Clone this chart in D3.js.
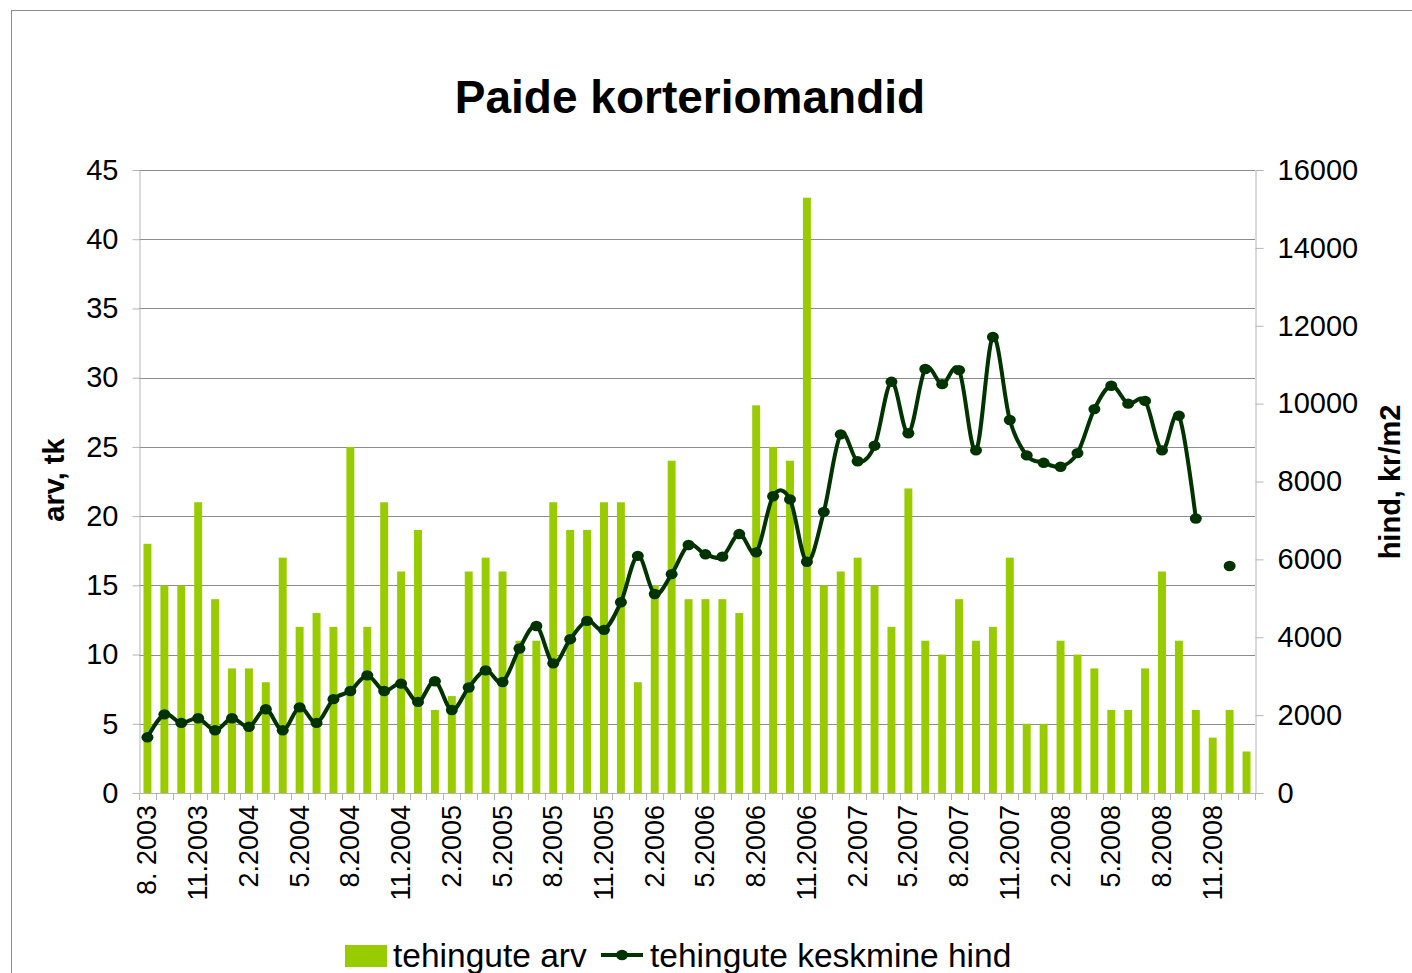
<!DOCTYPE html>
<html>
<head>
<meta charset="utf-8">
<script src="https://cdn.jsdelivr.net/npm/d3@7"></script>
<style>
  html, body { margin: 0; padding: 0; background: #fff; }
  svg { display: block; font-family: "Liberation Sans", Arial, Helvetica, sans-serif; }
</style>
</head>
<body>
<svg id="chart" width="1412" height="973"></svg>
<script>
// Months, August 2003 – January 2009
const months = [
  "8. 2003", "9.2003", "10.2003", "11.2003", "12.2003",
  "1.2004", "2.2004", "3.2004", "4.2004", "5.2004", "6.2004", "7.2004", "8.2004", "9.2004", "10.2004", "11.2004", "12.2004",
  "1.2005", "2.2005", "3.2005", "4.2005", "5.2005", "6.2005", "7.2005", "8.2005", "9.2005", "10.2005", "11.2005", "12.2005",
  "1.2006", "2.2006", "3.2006", "4.2006", "5.2006", "6.2006", "7.2006", "8.2006", "9.2006", "10.2006", "11.2006", "12.2006",
  "1.2007", "2.2007", "3.2007", "4.2007", "5.2007", "6.2007", "7.2007", "8.2007", "9.2007", "10.2007", "11.2007", "12.2007",
  "1.2008", "2.2008", "3.2008", "4.2008", "5.2008", "6.2008", "7.2008", "8.2008", "9.2008", "10.2008", "11.2008", "12.2008",
  "1.2009"
];

// Number of transactions per month (left axis)
const dealCount = [
  18, 15, 15, 21, 14, 9, 9, 8, 17, 12,
  13, 12, 25, 12, 21, 16, 19, 6, 7, 16,
  17, 16, 11, 11, 21, 19, 19, 21, 21, 8,
  15, 24, 14, 14, 14, 13, 28, 25, 24, 43,
  15, 16, 17, 15, 12, 22, 11, 10, 14, 11,
  12, 17, 5, 5, 11, 10, 9, 6, 6, 9,
  16, 11, 6, 4, 6, 3
];

// Average price per m2, kr (right axis); null = no value
const avgPrice = [
  1430, 2020, 1800, 1920, 1610, 1920, 1700, 2150, 1610, 2200,
  1800, 2410, 2620, 3020, 2620, 2810, 2340, 2870, 2130, 2710,
  3150, 2850, 3710, 4290, 3330, 3950, 4420, 4190, 4900, 6090,
  5110, 5620, 6370, 6130, 6070, 6650, 6180, 7620, 7540, 5940,
  7220, 9210, 8520, 8920, 10560, 9240, 10890, 10500, 10860, 8800,
  11710, 9580, 8670, 8480, 8380, 8730, 9860, 10460, 10000, 10070,
  8800, 9690, 7050, null, 5830, null
];

const leftTicks = [0, 5, 10, 15, 20, 25, 30, 35, 40, 45];
const rightTicks = [0, 2000, 4000, 6000, 8000, 10000, 12000, 14000, 16000];

const seriesNames = ["tehingute arv", "tehingute keskmine hind"];
const chartTitle = "Paide korteriomandid";
const leftTitle = "arv, tk";
const rightTitle = "hind, kr/m2";

const barColor = "#99cc00";
const lineColor = "#003300";
const gridColor = "#8c8c8c";
const axisColor = "#b4b4b4";

const svg = d3.select("#chart");

// outer frame
svg.append("rect")
  .attr("x", 11.5).attr("y", 10.5)
  .attr("width", 1600).attr("height", 1200)
  .attr("fill", "#fff").attr("stroke", "#8c8c8c").attr("stroke-width", 1);

const plot = { left: 139, right: 1255, top: 170, bottom: 793 };

const x = d3.scaleBand()
  .domain(months)
  .range([plot.left, plot.right])
  .paddingInner(0.53)
  .paddingOuter(0.265);

const yL = d3.scaleLinear().domain([0, 45]).range([plot.bottom, plot.top]);
const yR = d3.scaleLinear().domain([0, 16000]).range([plot.bottom, plot.top]);

const step = x.step();
const cx = d => x(d) + x.bandwidth() / 2;

// horizontal gridlines
svg.append("g").selectAll("line")
  .data(leftTicks.filter(t => t > 0))
  .join("line")
  .attr("x1", plot.left).attr("x2", plot.right)
  .attr("y1", d => Math.round(yL(d)) + 0.5)
  .attr("y2", d => Math.round(yL(d)) + 0.5)
  .attr("stroke", gridColor).attr("stroke-width", 1);

// bars
svg.append("g").selectAll("rect")
  .data(months)
  .join("rect")
  .attr("x", d => x(d))
  .attr("width", x.bandwidth())
  .attr("y", (d, i) => yL(dealCount[i]))
  .attr("height", (d, i) => yL(0) - yL(dealCount[i]))
  .attr("fill", barColor);

// left axis
const axL = svg.append("g")
  .attr("transform", `translate(${plot.left + 0.5},0)`)
  .call(d3.axisLeft(yL).tickValues(leftTicks).tickSize(7).tickPadding(14).tickSizeOuter(0));
axL.select(".domain").attr("stroke", axisColor);
axL.selectAll(".tick line").attr("stroke", axisColor);
axL.selectAll(".tick text")
  .attr("font-size", 29).attr("fill", "#000")
  .attr("font-family", "Liberation Sans, Arial, sans-serif");

// right axis
const axR = svg.append("g")
  .attr("transform", `translate(${plot.right + 0.5},0)`)
  .call(d3.axisRight(yR).tickValues(rightTicks).tickFormat(d3.format("d"))
    .tickSize(8).tickPadding(14).tickSizeOuter(0));
axR.select(".domain").attr("stroke", axisColor);
axR.selectAll(".tick line").attr("stroke", axisColor);
axR.selectAll(".tick text")
  .attr("font-size", 29).attr("fill", "#000")
  .attr("font-family", "Liberation Sans, Arial, sans-serif");

// category axis: baseline, boundary ticks, rotated labels
const axX = svg.append("g");
axX.append("line")
  .attr("x1", plot.left).attr("x2", plot.right)
  .attr("y1", plot.bottom + 0.5).attr("y2", plot.bottom + 0.5)
  .attr("stroke", axisColor);
const bounds = months.map(m => x(m) - step * x.paddingInner() / 2).concat([plot.right]);
axX.selectAll("line.tk")
  .data(bounds)
  .join("line").attr("class", "tk")
  .attr("x1", d => Math.round(d) + 0.5).attr("x2", d => Math.round(d) + 0.5)
  .attr("y1", plot.bottom).attr("y2", plot.bottom + 7)
  .attr("stroke", axisColor);
axX.selectAll("text")
  .data(months.filter((m, i) => i % 3 === 0))
  .join("text")
  .attr("transform", d => `translate(${cx(d) + 9},${plot.bottom + 12}) rotate(-90)`)
  .attr("text-anchor", "end")
  .attr("font-size", 27)
  .text(d => d);

// price line, smoothed, with gaps at missing months
const pts = months.map((m, i) => ({ m, v: avgPrice[i] }));
const line = d3.line()
  .defined(d => d.v != null)
  .x(d => cx(d.m))
  .y(d => yR(d.v))
  .curve(d3.curveCatmullRom.alpha(0));
svg.append("path")
  .datum(pts)
  .attr("d", line)
  .attr("fill", "none")
  .attr("stroke", lineColor)
  .attr("stroke-width", 4)
  .attr("stroke-linejoin", "round");
svg.append("g").selectAll("ellipse")
  .data(pts.filter(d => d.v != null))
  .join("ellipse")
  .attr("cx", d => cx(d.m))
  .attr("cy", d => yR(d.v))
  .attr("rx", 6).attr("ry", 5.2)
  .attr("fill", lineColor);

// titles
svg.append("text")
  .attr("x", 690).attr("y", 113)
  .attr("text-anchor", "middle")
  .attr("font-size", 46).attr("font-weight", "bold")
  .text(chartTitle);

svg.append("text")
  .attr("transform", "translate(64,480) rotate(-90)")
  .attr("text-anchor", "middle")
  .attr("font-size", 29).attr("font-weight", "bold")
  .text(leftTitle);

svg.append("text")
  .attr("transform", "translate(1400,482) rotate(-90)")
  .attr("text-anchor", "middle")
  .attr("font-size", 29).attr("font-weight", "bold")
  .text(rightTitle);

// legend
const lg = svg.append("g");
lg.append("rect")
  .attr("x", 345).attr("y", 945).attr("width", 42).attr("height", 22)
  .attr("fill", barColor);
lg.append("text")
  .attr("x", 393).attr("y", 967)
  .attr("font-size", 33.5)
  .text(seriesNames[0]);
lg.append("line")
  .attr("x1", 601).attr("x2", 643).attr("y1", 955).attr("y2", 955)
  .attr("stroke", lineColor).attr("stroke-width", 4);
lg.append("ellipse")
  .attr("cx", 622).attr("cy", 955).attr("rx", 6).attr("ry", 5.2)
  .attr("fill", lineColor);
lg.append("text")
  .attr("x", 650).attr("y", 967)
  .attr("font-size", 33.5)
  .text(seriesNames[1]);
</script>
</body>
</html>
